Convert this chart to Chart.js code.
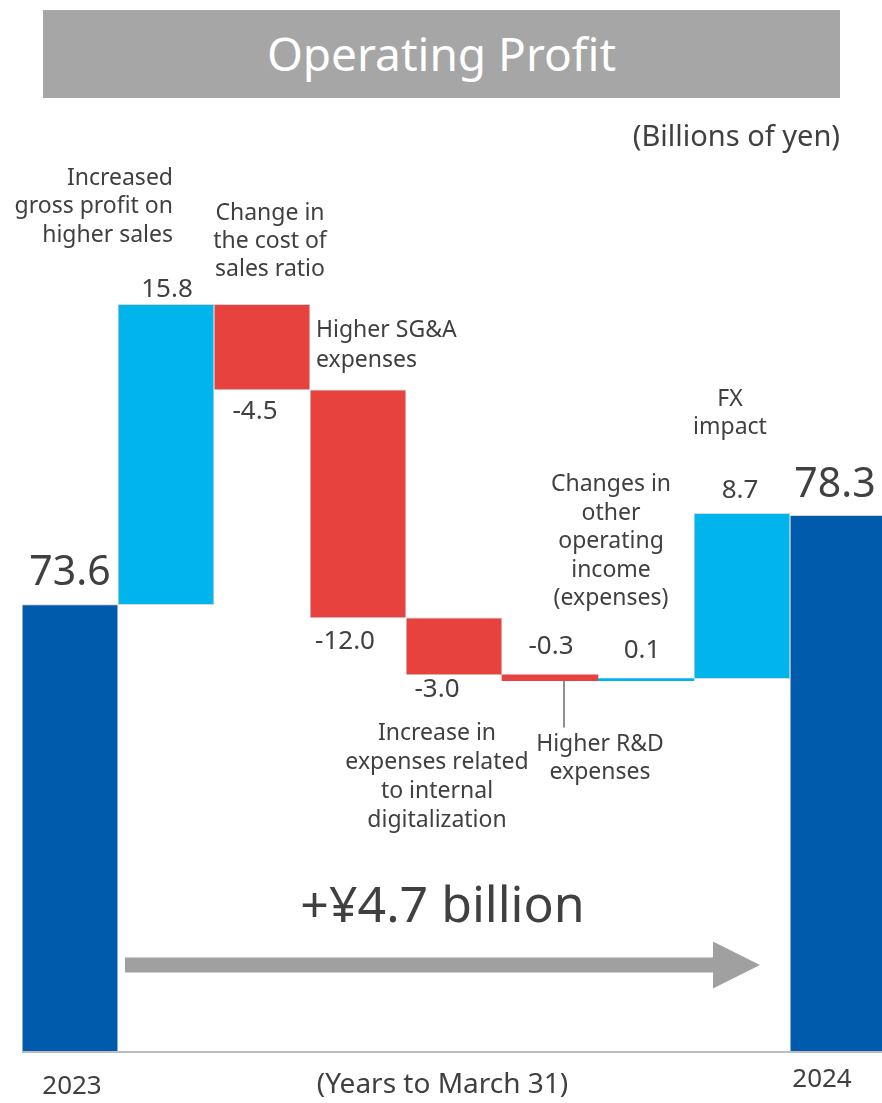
<!DOCTYPE html>
<html>
<head>
<meta charset="utf-8">
<title>Operating Profit</title>
<script src="https://cdn.jsdelivr.net/npm/chart.js@4.4.1/dist/chart.umd.min.js"></script>
<style>
  html, body { margin: 0; padding: 0; background: #fff; overflow: hidden; }
  #wrap { position: relative; width: 882px; height: 1103px; }
  #myChart { position: absolute; left: 0; top: 0; }
  #title {
    position: absolute; left: 43px; top: 10px; width: 797px; height: 88px; overflow: hidden;
    background: #a6a6a6; color: #fff; text-align: center;
    font: 46px "Noto Sans", sans-serif;
    line-height: 86px;
  }
</style>
</head>
<body>
<div id="wrap">
  <canvas id="myChart" width="890" height="1103"></canvas>
  <div id="title">Operating Profit</div>
</div>
<script>
// values in billions of yen
const categories = ['2023', 'Gross profit', 'Cost of sales ratio', 'SG&A', 'Digitalization', 'R&D', 'Other operating', 'FX', '2024'];
const startValue = 73.6;
const changes = [15.8, -4.5, -12.0, -3.0, -0.3, 0.1, 8.7];
const endValue = 78.3;
const valueLabels = ['73.6', '15.8', '-4.5', '-12.0', '-3.0', '-0.3', '0.1', '8.7', '78.3'];
const noteLines = [
  null,
  ['Increased', 'gross profit on', 'higher sales'],
  ['Change in', 'the cost of', 'sales ratio'],
  ['Higher SG&A', 'expenses'],
  ['Increase in', 'expenses related', 'to internal', 'digitalization'],
  ['Higher R&D', 'expenses'],
  ['Changes in', 'other', 'operating', 'income', '(expenses)'],
  ['FX', 'impact'],
  null
];
const yMin = 50;
const yMax = 100;

const FONT = '"Noto Sans", sans-serif';
const TEXT = '#404040';
const C_TOTAL = '#005bac';
const C_UP = '#00b5ec';
const C_DOWN = '#e8423f';

// floating bars [from, to]
let running = startValue;
const barData = [[yMin, startValue]];
changes.forEach(d => {
  barData.push([running, running + d]);
  running += d;
});
barData.push([yMin, endValue]);

const barColors = barData.map((b, i) => {
  if (i === 0 || i === barData.length - 1) return C_TOTAL;
  return b[1] >= b[0] ? C_UP : C_DOWN;
});

// where the value labels sit: edge of bar, x shift, y shift, font size
const valuePos = [
  { edge: 'top', dx: 0, dy: -31, size: 41 },
  { edge: 'top', dx: 1, dy: -15, size: 26 },
  { edge: 'bottom', dx: -7, dy: 22, size: 26 },
  { edge: 'bottom', dx: -13, dy: 24, size: 26 },
  { edge: 'bottom', dx: -17, dy: 15, size: 26 },
  { edge: 'top', dx: 1, dy: -28, size: 26 },
  { edge: 'top', dx: -4, dy: -28, size: 26 },
  { edge: 'top', dx: -2, dy: -23, size: 26 },
  { edge: 'top', dx: -3, dy: -30, size: 41 }
];

// where the notes sit
const notePos = [
  null,
  { edge: 'top', dx: 7, dy: -126, align: 'right', lh: 28.5 },
  { edge: 'top', dx: 8, dy: -91, align: 'center', lh: 28 },
  { edge: 'top', dx: -42, dy: -59, align: 'left', lh: 30 },
  { edge: 'bottom', dx: -17, dy: 59, align: 'center', lh: 28.7 },
  { edge: 'bottom', dx: 50, dy: 64, align: 'center', lh: 28, leader: 14 },
  { edge: 'top', dx: -35, dy: -194, align: 'center', lh: 28.5 },
  { edge: 'top', dx: -12, dy: -114, align: 'center', lh: 28 },
  null
];

const annotations = {
  id: 'annotations',
  afterDatasetsDraw(chart) {
    const ctx = chart.ctx;
    const area = chart.chartArea;
    const meta = chart.getDatasetMeta(0);
    const n = meta.data.length;

    // baseline
    ctx.save();
    ctx.strokeStyle = '#bdbdbd';
    ctx.lineWidth = 2;
    ctx.beginPath();
    ctx.moveTo(area.left, area.bottom - 1);
    ctx.lineTo(area.right, area.bottom - 1);
    ctx.stroke();

    ctx.fillStyle = TEXT;
    ctx.textBaseline = 'middle';

    meta.data.forEach((bar, i) => {
      const top = Math.min(bar.y, bar.base);
      const bottom = Math.max(bar.y, bar.base);
      const vp = valuePos[i];
      ctx.font = vp.size + 'px ' + FONT;
      ctx.textAlign = 'center';
      ctx.fillText(valueLabels[i], bar.x + vp.dx, (vp.edge === 'top' ? top : bottom) + vp.dy);

      const np = notePos[i];
      if (!np) return;
      ctx.font = '23px ' + FONT;
      ctx.textAlign = np.align;
      const y0 = (np.edge === 'top' ? top : bottom) + np.dy;
      noteLines[i].forEach((line, k) => {
        ctx.fillText(line, bar.x + np.dx, y0 + k * np.lh);
      });
      if (np.leader) {
        ctx.strokeStyle = '#6b6b6b';
        ctx.lineWidth = 1.5;
        ctx.beginPath();
        ctx.moveTo(bar.x + np.leader, bottom);
        ctx.lineTo(bar.x + np.leader, y0 - 17);
        ctx.stroke();
      }
    });

    // arrow between the two years
    const first = meta.data[0];
    const last = meta.data[n - 1];
    const x1 = first.x + first.width / 2 + 7;
    const x2 = last.x - last.width / 2 - 30;
    const ay = area.bottom - 88;
    ctx.fillStyle = '#a0a0a0';
    ctx.beginPath();
    ctx.moveTo(x1, ay - 7.5);
    ctx.lineTo(x2 - 47, ay - 7.5);
    ctx.lineTo(x2 - 47, ay - 23.5);
    ctx.lineTo(x2, ay);
    ctx.lineTo(x2 - 47, ay + 23.5);
    ctx.lineTo(x2 - 47, ay + 7.5);
    ctx.lineTo(x1, ay + 7.5);
    ctx.closePath();
    ctx.fill();

    const mid = (x1 + x2) / 2;
    ctx.fillStyle = TEXT;
    ctx.textAlign = 'center';
    ctx.font = '50px ' + FONT;
    ctx.fillText('+¥4.7 billion', mid, ay - 57);

    // year labels
    ctx.font = '26px ' + FONT;
    ctx.fillText(categories[0], first.x + 2, area.bottom + 34);
    ctx.fillText(categories[n - 1], last.x - 16, area.bottom + 27);
    ctx.font = '28px ' + FONT;
    ctx.fillText('(Years to March 31)', mid, area.bottom + 32);

    // unit
    ctx.font = '29px ' + FONT;
    ctx.textAlign = 'right';
    ctx.fillText('(Billions of yen)', 840, 138);
    ctx.restore();
  }
};

const ctx = document.getElementById('myChart');

new Chart(ctx, {
  type: 'bar',
  data: {
    labels: categories,
    datasets: [{
      data: barData,
      backgroundColor: barColors,
      borderColor: '#d6d6d6',
      borderWidth: (c) => {
        const b = barData[c.dataIndex];
        return Math.abs(b[1] - b[0]) < 1 ? 0 : 1;
      },
      borderSkipped: false,
      barPercentage: 1,
      categoryPercentage: 1
    }]
  },
  options: {
    responsive: false,
    animation: false,
    devicePixelRatio: 1,
    layout: {
      padding: { top: 103, bottom: 50, left: 22, right: 4 }
    },
    plugins: {
      legend: { display: false },
      tooltip: { enabled: false }
    },
    scales: {
      x: { display: false },
      y: { display: false, min: yMin, max: yMax }
    }
  },
  plugins: [annotations]
});
</script>
</body>
</html>
